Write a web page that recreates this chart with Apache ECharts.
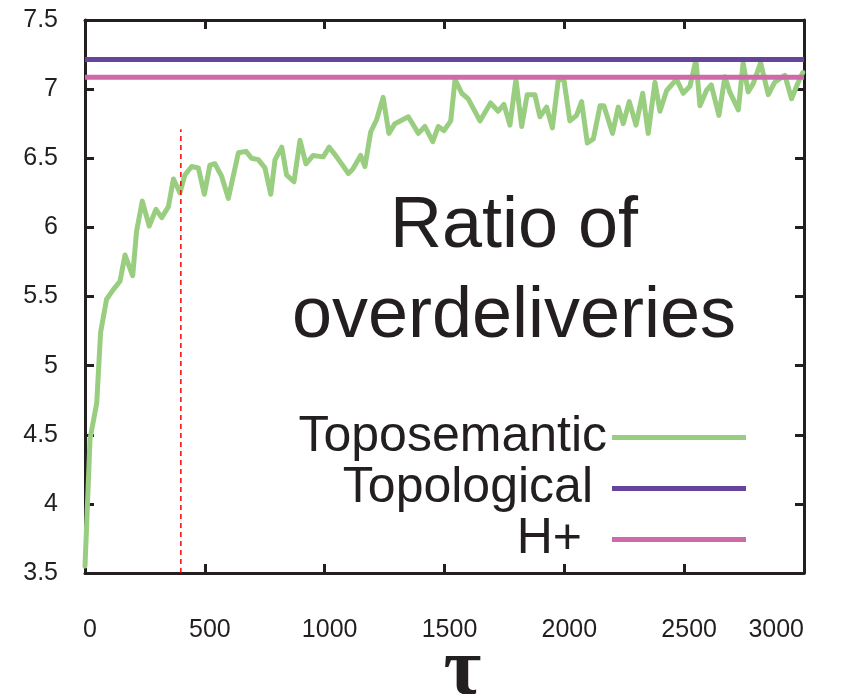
<!DOCTYPE html>
<html>
<head>
<meta charset="utf-8">
<script src="https://cdn.jsdelivr.net/npm/echarts@6/dist/echarts.min.js"></script>
<style>
html,body{margin:0;padding:0;background:#fff;}
#chart{width:854px;height:694px;}
</style>
</head>
<body>
<div id="chart"></div>
<script>
// ---- data ----
const tau = [0,21,49,65,90,118,146,167,199,215,239,268,296,320,348,369,396,417,445,473,498,521,542,570,598,640,672,695,723,751,775,793,821,841,872,897,922,952,994,1019,1050,1099,1117,1150,1168,1192,1217,1244,1268,1293,1349,1391,1418,1451,1474,1498,1526,1544,1572,1599,1648,1692,1724,1748,1773,1798,1822,1845,1877,1898,1926,1950,1975,1998,2023,2051,2072,2096,2121,2149,2165,2201,2225,2246,2271,2299,2327,2350,2378,2399,2427,2468,2496,2524,2549,2566,2593,2613,2645,2670,2690,2726,2746,2767,2788,2819,2851,2878,2920,2948,2976,2995];
const toposemantic = [3.55,4.47,4.73,5.24,5.48,5.55,5.61,5.80,5.65,5.97,6.19,6.01,6.13,6.07,6.15,6.35,6.25,6.38,6.44,6.43,6.24,6.45,6.46,6.37,6.21,6.54,6.55,6.50,6.49,6.43,6.24,6.49,6.58,6.38,6.33,6.63,6.46,6.52,6.51,6.58,6.51,6.39,6.42,6.52,6.44,6.69,6.78,6.94,6.68,6.75,6.80,6.68,6.73,6.62,6.73,6.70,6.77,7.07,6.97,6.93,6.77,6.90,6.84,6.89,6.74,7.07,6.73,6.96,6.96,6.80,6.87,6.72,7.07,7.07,6.77,6.81,6.91,6.61,6.64,6.88,6.88,6.68,6.87,6.75,6.91,6.74,6.97,6.68,7.05,6.84,6.99,7.07,6.97,7.02,7.21,6.88,6.99,7.03,6.81,7.09,6.98,6.85,7.19,6.98,7.04,7.19,6.96,7.05,7.10,6.93,7.05,7.12];
const topologicalValue = 7.215;
const hplusValue = 7.085;
const tauRange = [0, 3000];
const markerTau = 400;
const markerRange = [3.5, 6.71];
const seriesNames = ['Toposemantic', 'Topological', 'H+'];
const titleLines = ['Ratio of', 'overdeliveries'];
const axisName = 'τ';

// ---- chart ----
const chart = echarts.init(document.getElementById('chart'), null, {renderer: 'canvas'});
const ink = '#231f20';
const font = 'Liberation Sans, Arial, sans-serif';
const colors = ['#99cd80', '#66449b', '#cf6aa8'];
const plain = v => String(v);

const frameAxis = {
  axisLine: {show: true, onZero: false, lineStyle: {color: ink, width: 3}},
  axisTick: {show: true, inside: true, length: 9, lineStyle: {color: ink, width: 3}},
  splitLine: {show: false}
};

const option = {
  animation: false,
  backgroundColor: '#fff',
  grid: {left: 85, right: 50, top: 20, bottom: 121, containLabel: false, outerBoundsMode: 'none'},
  xAxis: [
    Object.assign({}, frameAxis, {
      type: 'value', min: tauRange[0], max: tauRange[1], interval: 500, position: 'bottom',
      name: axisName, nameLocation: 'middle', nameGap: 59, nameMoveOverlap: false,
      nameTextStyle: {fontSize: 82, fontWeight: 'bold', fontFamily: 'Liberation Serif, DejaVu Serif, serif', color: ink, padding: [0, 0, 0, 36]},
      axisLabel: {show: true, margin: 45, fontSize: 25, color: ink, fontFamily: font, padding: [0, 0, 0, 10], alignMaxLabel: 'right', formatter: plain}
    }),
    Object.assign({}, frameAxis, {
      type: 'value', min: tauRange[0], max: tauRange[1], interval: 500, position: 'top',
      axisLabel: {show: false}
    })
  ],
  yAxis: [
    Object.assign({}, frameAxis, {
      type: 'value', min: 3.5, max: 7.5, interval: 0.5, position: 'left',
      axisLabel: {show: true, margin: 27, fontSize: 25, color: ink, fontFamily: font, formatter: plain}
    }),
    Object.assign({}, frameAxis, {
      type: 'value', min: 3.5, max: 7.5, interval: 0.5, position: 'right',
      axisLabel: {show: false}
    })
  ],
  legend: {
    data: [
      {name: seriesNames[0], textStyle: {padding: [0, 0, 0, 0]}},
      {name: seriesNames[1], textStyle: {padding: [0, 14, 0, 0]}},
      {name: seriesNames[2], textStyle: {padding: [0, 25, 0, 0]}}
    ],
    orient: 'vertical', align: 'right', right: 108, top: 412, padding: 0, itemGap: 0,
    itemWidth: 134, itemHeight: 5, icon: 'rect', selectedMode: false,
    textStyle: {fontSize: 50, lineHeight: 51, color: ink, fontFamily: font}
  },
  graphic: [{
    type: 'text', x: 514, y: 182, z: 100,
    style: {text: titleLines.join('\n'), align: 'center', verticalAlign: 'top', fontSize: 72, lineHeight: 90, fontFamily: font, fill: ink}
  }],
  series: [
    {
      name: seriesNames[0], type: 'line', xAxisIndex: 0, yAxisIndex: 0,
      data: tau.map((t, i) => [t, toposemantic[i]]),
      showSymbol: false, symbol: 'none',
      itemStyle: {color: colors[0]},
      lineStyle: {color: colors[0], width: 5, join: 'round', cap: 'round'},
      z: 2
    },
    {
      name: seriesNames[1], type: 'line', xAxisIndex: 0, yAxisIndex: 0,
      data: [[tauRange[0], topologicalValue], [tauRange[1], topologicalValue]],
      showSymbol: false, symbol: 'none',
      itemStyle: {color: colors[1]},
      lineStyle: {color: colors[1], width: 5},
      clip: false, z: 3
    },
    {
      name: seriesNames[2], type: 'line', xAxisIndex: 0, yAxisIndex: 0,
      data: [[tauRange[0], hplusValue], [tauRange[1], hplusValue]],
      showSymbol: false, symbol: 'none',
      itemStyle: {color: colors[2]},
      lineStyle: {color: colors[2], width: 5},
      clip: false, z: 4
    },
    {
      name: 'marker', type: 'line', xAxisIndex: 0, yAxisIndex: 0,
      data: [[markerTau, markerRange[0]], [markerTau, markerRange[1]]],
      showSymbol: false, symbol: 'none',
      itemStyle: {color: '#ff0000'},
      lineStyle: {color: '#ff0000', width: 1.5, type: [5, 4]},
      z: 5
    }
  ]
};
chart.setOption(option);
</script>
</body>
</html>
